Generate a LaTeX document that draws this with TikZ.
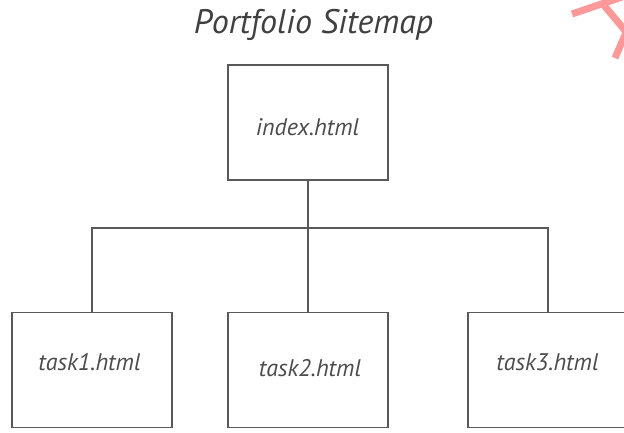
\documentclass[tikz,border=0pt]{standalone}
\usepackage{fontspec}
\setmainfont{PT Sans}
\begin{document}
\begin{tikzpicture}[x=1pt,y=-1pt,
  page/.style={draw=black!65, line width=1.4pt, fill=white, minimum width=160pt, minimum height=115pt, inner sep=0pt},
  pagetext/.style={anchor=base, inner sep=0pt, font=\itshape\fontsize{24}{28}\selectfont, text=black!70},
  link/.style={draw=black!65, line width=1.4pt},
  stamp/.style={draw=red!40!white, line width=7pt}]
\clip (0,0) rectangle (624,432);
\fill[white] (0,0) rectangle (624,432);
\node[anchor=base, inner sep=0pt, font=\itshape\fontsize{34}{38}\selectfont, text=black!75] (title) at (313.5,33) {Portfolio Sitemap};
\node[page] (index) at (308,122.5) {};
\node[page] (t1) at (92,370) {};
\node[page] (t2) at (308,370) {};
\node[page] (t3) at (548,370) {};
\node[pagetext] (lindex) at (307.5,135) {index.html};
\node[pagetext] (lt1) at (89.5,370) {task1.html};
\node[pagetext] (lt2) at (310,376) {task2.html};
\node[pagetext] (lt3) at (547.5,370) {task3.html};
\coordinate (j) at (308,228);
\draw[link] (index.south) -- (j);
\draw[link] (j) -| (t1.north);
\draw[link] (j) -- (t2.north);
\draw[link] (j) -| (t3.north);
\coordinate (w1) at (572,14); \coordinate (w2) at (622,-3);
\coordinate (w3) at (602,3); \coordinate (w4) at (628,34);
\coordinate (w5) at (615,58); \coordinate (w6) at (628,28);
\draw[stamp] (w1) -- (w2);
\draw[stamp] (w3) -- (w4);
\draw[stamp] (w5) -- (w6);
\end{tikzpicture}
\end{document}
